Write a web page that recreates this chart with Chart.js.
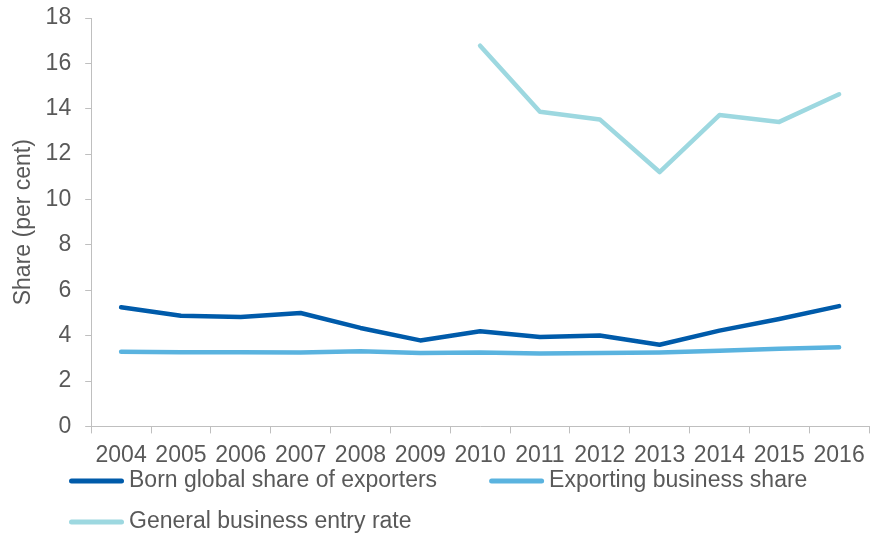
<!DOCTYPE html>
<html>
<head>
<meta charset="utf-8">
<script src="https://cdn.jsdelivr.net/npm/chart.js@4/dist/chart.umd.min.js"></script>
<style>
  html, body { margin: 0; padding: 0; background: #ffffff; }
  #wrap { width: 875px; height: 538px; position: relative; }
</style>
</head>
<body>
<div id="wrap"><canvas id="chart"></canvas></div>
<script>
// Years on the horizontal axis
const years = ['2004', '2005', '2006', '2007', '2008', '2009', '2010',
               '2011', '2012', '2013', '2014', '2015', '2016'];

// Share of exporters that are born global (per cent)
const bornGlobal = [5.25, 4.88, 4.82, 5.0, 4.34, 3.79, 4.19, 3.94, 4.01, 3.6, 4.22, 4.73, 5.3];

// Share of businesses that export (per cent)
const exportingShare = [3.29, 3.27, 3.27, 3.26, 3.31, 3.23, 3.26, 3.21, 3.24, 3.26, 3.33, 3.42, 3.49];

// General business entry rate (per cent), available from 2010
const entryRate = [null, null, null, null, null, null, 16.78, 13.87, 13.53, 11.21, 13.72, 13.42, 14.64];

// Vertical axis ticks
const yTicks = [0, 2, 4, 6, 8, 10, 12, 14, 16, 18];

const seriesNames = ['Born global share of exporters', 'Exporting business share', 'General business entry rate'];
const seriesColors = ['#005BAA', '#5AB3DF', '#9DD8E0'];

const FONT = "'Liberation Sans', Arial, sans-serif";
const TEXT = '#595959';
const AXIS = '#BFBFBF';

// Legend drawn as line swatches flowing left to right under the axis
const lineLegend = {
  id: 'lineLegend',
  afterDraw(chart) {
    const ctx = chart.ctx;
    const startX = 69, firstY = 481, rowGap = 41;
    const swatch = 55, textGap = 5, itemGap = 52;
    ctx.save();
    ctx.font = '23px ' + FONT;
    ctx.textBaseline = 'middle';
    ctx.textAlign = 'left';
    let x = startX, y = firstY;
    chart.data.datasets.forEach((ds, i) => {
      const w = ctx.measureText(ds.label).width;
      if (i > 0 && x + swatch + textGap + w > chart.width) {
        x = startX;
        y += rowGap;
      }
      ctx.strokeStyle = ds.borderColor;
      ctx.lineWidth = 5;
      ctx.lineCap = 'round';
      ctx.beginPath();
      ctx.moveTo(x + 2.5, y);
      ctx.lineTo(x + swatch - 2.5, y);
      ctx.stroke();
      ctx.fillStyle = TEXT;
      ctx.fillText(ds.label, x + swatch + textGap, y);
      x += swatch + textGap + w + itemGap;
    });
    ctx.restore();
  }
};

function lineSet(label, data, color) {
  return {
    label: label,
    data: data,
    borderColor: color,
    backgroundColor: color,
    borderWidth: 4.5,
    borderCapStyle: 'round',
    borderJoinStyle: 'round',
    pointRadius: 0,
    pointHoverRadius: 0,
    tension: 0,
    fill: false,
    spanGaps: false
  };
}

new Chart(document.getElementById('chart'), {
  type: 'line',
  data: {
    labels: years,
    datasets: [
      lineSet(seriesNames[0], bornGlobal, seriesColors[0]),
      lineSet(seriesNames[1], exportingShare, seriesColors[1]),
      lineSet(seriesNames[2], entryRate, seriesColors[2])
    ]
  },
  options: {
    responsive: true,
    maintainAspectRatio: false,
    animation: false,
    events: [],
    layout: { padding: { top: 18, right: 6, left: 4, bottom: 61 } },
    plugins: {
      legend: { display: false },
      tooltip: { enabled: false }
    },
    scales: {
      x: {
        type: 'category',
        offset: true,
        grid: {
          display: true,
          offset: true,
          drawOnChartArea: false,
          drawTicks: true,
          tickLength: 7,
          color: AXIS,
          lineWidth: 1
        },
        border: { display: true, color: AXIS, width: 1 },
        ticks: {
          color: TEXT,
          font: { family: FONT, size: 23 },
          padding: 8,
          maxRotation: 0,
          autoSkip: false
        }
      },
      y: {
        min: yTicks[0],
        max: yTicks[yTicks.length - 1],
        afterBuildTicks(scale) {
          scale.ticks = yTicks.map(v => ({ value: v }));
        },
        // the outer layout padding already leaves room for the end labels
        afterFit(scale) {
          scale.paddingTop = 0;
          scale.paddingBottom = 0;
        },
        grid: {
          display: true,
          drawOnChartArea: false,
          drawTicks: true,
          tickLength: 6,
          color: AXIS,
          lineWidth: 1
        },
        border: { display: true, color: AXIS, width: 1 },
        ticks: {
          color: TEXT,
          font: { family: FONT, size: 23 },
          padding: 14
        },
        title: {
          display: true,
          text: 'Share (per cent)',
          color: TEXT,
          font: { family: FONT, size: 23 },
          padding: { top: 6, bottom: -6 }
        }
      }
    }
  },
  plugins: [lineLegend]
});
</script>
</body>
</html>
